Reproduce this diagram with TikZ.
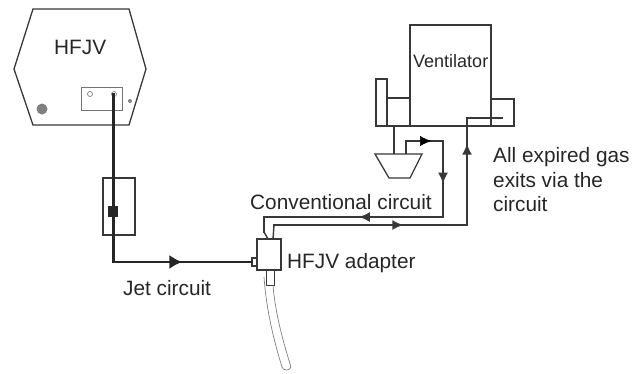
\documentclass[tikz,border=0pt]{standalone}
\usepackage{fontspec}
\setmainfont{Liberation Sans}
\usetikzlibrary{arrows.meta, decorations.markings}
\definecolor{inkgray}{gray}{0.22}
\begin{document}
\begin{tikzpicture}[x=1pt,y=-1pt,line join=miter,
    outline/.style={draw=inkgray,line width=1.3pt},
    thin box/.style={draw=inkgray!70,line width=0.8pt},
    label/.style={inner sep=0pt,anchor=base west,font=\fontsize{20.8}{24}\selectfont,text=black!85},
    pipe/.style={draw=inkgray,line width=1.4pt,line cap=rect},
    jet/.style={draw=black!85,line width=2.6pt,line cap=rect},
    tube/.style={draw=gray,line width=0.7pt},
    flow/.style={postaction={decorate,decoration={markings,mark=at position #1 with {\arrow{Latex[length=11pt,width=10pt]}}}}},
    bigflow/.style={postaction={decorate,decoration={markings,mark=at position #1 with {\arrow{Latex[length=13pt,width=14pt]}}}}}]
    \useasboundingbox (0,0) rectangle (644,373);

    % HFJV unit
    \node[label] (hfjvlabel) at (54,54) {HFJV};
    \draw[outline] (14,69) -- (33,9) -- (129,9) -- (146,69) -- (129,125) -- (33,125) -- cycle;
    \draw[thin box] (81,87) rectangle (122,110);
    \node[circle,draw=gray,line width=0.7pt,inner sep=0pt,minimum size=5pt] (hole1) at (90,94) {};
    \node[circle,draw=gray,line width=0.7pt,inner sep=0pt,minimum size=5pt] (hole2) at (114,94) {};
    \node[circle,fill=gray,inner sep=0pt,minimum size=11pt] (knob) at (42,109) {};
    \node[circle,fill=gray,inner sep=0pt,minimum size=4pt] (screw) at (130,101) {};

    % filter on the jet line
    \node[draw=inkgray,line width=1.1pt,minimum width=32pt,minimum height=57pt,inner sep=0pt] (filter) at (119,206.5) {};
    \node[fill=black!85,minimum width=10pt,minimum height=11pt,inner sep=0pt] (block) at (113,211.5) {};

    % ventilator
    \node[label,font=\fontsize{18}{20}\selectfont] (ventlabel) at (413,67) {Ventilator};
    \node[outline,minimum width=81pt,minimum height=101pt,inner sep=0pt] (vent) at (450.5,75.5) {};
    \node[outline,minimum width=23pt,minimum height=28pt,inner sep=0pt] (ventleft) at (398.5,112) {};
    \node[outline,minimum width=11pt,minimum height=47pt,inner sep=0pt] (ventbar) at (381.5,102.5) {};
    \node[outline,minimum width=23pt,minimum height=27pt,inner sep=0pt] (ventright) at (502.5,112.5) {};
    \draw[outline] (375,154) -- (422,154) -- (410,178) -- (389,178) -- cycle;

    % adapter
    \node[draw=inkgray,line width=1.6pt,minimum width=24pt,minimum height=31.5pt,inner sep=0pt] (adapter) at (269,254.5) {};
    \node[draw=inkgray,line width=1.3pt,minimum width=5pt,minimum height=8pt,inner sep=0pt] (port) at (254.5,262) {};
    \node[draw=inkgray,line width=1pt,minimum width=8pt,minimum height=15pt,inner sep=0pt] (neck) at (270,277.5) {};

    % patient tube
    \draw[tube] (264,277) .. controls (266,305) and (272,335) .. (282,367) coordinate (tubel);
    \draw[tube] (273,285) .. controls (275,310) and (281,335) .. (291,367) coordinate (tuber);
    \draw[tube] (tubel) .. controls (283,371) and (290,371) .. (tuber);

    % named corners
    \coordinate (jetstart) at (113.5,94);
    \coordinate (jetcorner) at (113.5,262);
    \coordinate (c1) at (264,232);
    \coordinate (c2) at (264,217);
    \coordinate (c3) at (443,217);
    \coordinate (c4) at (443,141);
    \coordinate (c5) at (406,141);
    \coordinate (c6) at (406,153);
    \coordinate (e1) at (274,225);
    \coordinate (e2) at (467,225);
    \coordinate (e3) at (467,118);
    \coordinate (e4) at (502,118);
    \coordinate (stem1) at (394,126);
    \coordinate (stem2) at (394,154);
    \coordinate (e0) at (273,239);
    \coordinate (c0) at (268,239);

    \path
    (jetstart) edge[jet] (jetcorner)
    (jetcorner) edge[jet,bigflow=0.5] (port.west)
    (c3) edge[pipe,flow=0.47] (c2)
    (c4) edge[pipe,flow=0.56] (c3)
    (c5) edge[pipe] (c4)
    (c5) edge[draw=none,flow=0.68] (c4)
    (c6) edge[pipe] (c5)
    (e1) edge[pipe,flow=0.67] (e2)
    (e2) edge[pipe,flow=0.76] (e3)
    (e3) edge[pipe] (e4)
    (c2) edge[pipe] (c1)
    (c1) edge[pipe] (c0)
    (e1) edge[pipe] (e0)
    (stem1) edge[outline] (stem2)
    ;

    \node[label] (convlabel) at (250,209) {Conventional circuit};
    \node[label] (adapterlabel) at (287,268) {HFJV adapter};
    \node[label] (jetlabel) at (123,295) {Jet circuit};
    \node[label] (gas1) at (493,162) {All expired gas};
    \node[label] (gas2) at (493,187) {exits via the};
    \node[label] (gas3) at (493,211) {circuit};
\end{tikzpicture}
\end{document}
